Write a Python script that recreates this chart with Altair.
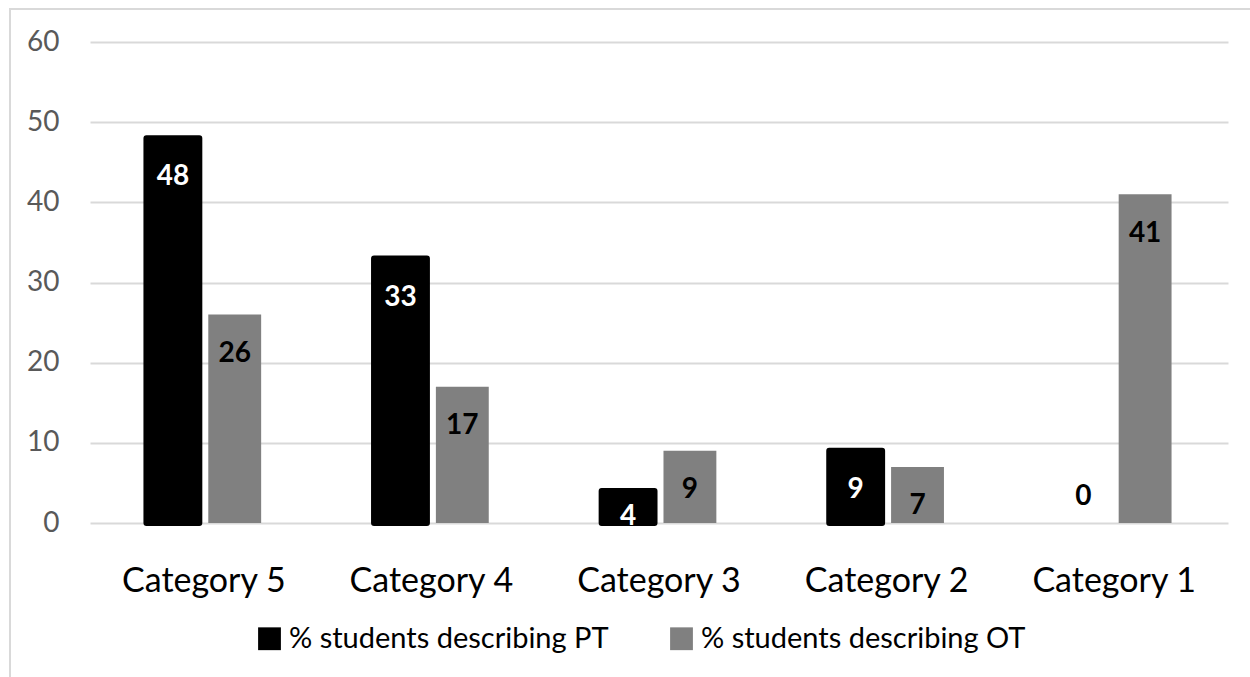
import altair as alt
import pandas as pd

categories = ["Category 5", "Category 4", "Category 3", "Category 2", "Category 1"]
pt_values = [48, 33, 4, 9, 0]
ot_values = [26, 17, 9, 7, 41]
series_names = ["% students describing PT", "% students describing OT"]
series_colors = ["#000000", "#808080"]
y_ticks = [0, 10, 20, 30, 40, 50, 60]

rows = []
for c, p, o in zip(categories, pt_values, ot_values):
    rows.append({"category": c, "series": series_names[0], "value": p})
    rows.append({"category": c, "series": series_names[1], "value": o})
df = pd.DataFrame(rows)

FONT = "Lato"
PT_TEST = "datum.series == '% students describing PT' && datum.value > 0"

x_enc = alt.X(
    "category:N",
    sort=categories,
    scale=alt.Scale(paddingInner=0.496, paddingOuter=0.248),
    axis=alt.Axis(
        title=None, labelAngle=0, labelFontSize=34, labelColor="#000000",
        labelFont=FONT, labelPadding=41, ticks=False, domain=False, grid=False,
    ),
)
xoff_enc = alt.XOffset(
    "series:N", sort=series_names,
    scale=alt.Scale(domain=series_names, paddingInner=0.145, paddingOuter=0),
)
y_scale = alt.Scale(domain=[0, 60], nice=False)
y_axis = alt.Axis(
    title=None, values=y_ticks, grid=True, gridColor="#d9d9d9", gridWidth=2,
    domain=False, ticks=False, labelFontSize=28, labelColor="#595959",
    labelFont=FONT, labelPadding=31,
)

bars = alt.Chart(df).mark_bar(strokeJoin="round").encode(
    x=x_enc,
    xOffset=xoff_enc,
    y=alt.Y("value:Q", scale=y_scale, axis=y_axis),
    color=alt.Color(
        "series:N",
        scale=alt.Scale(domain=series_names, range=series_colors),
        legend=alt.Legend(
            title=None, orient="none", legendX=165, legendY=582, direction="horizontal",
            labelFontSize=29, labelFont=FONT, labelColor="#000000", symbolType="square",
            symbolSize=520, symbolStrokeWidth=0, labelOffset=5, columnPadding=58,
            labelLimit=0,
        ),
    ),
    stroke=alt.value("#000000"),
    strokeWidth=alt.condition(PT_TEST, alt.value(6), alt.value(0)),
)

labels = alt.Chart(df).transform_calculate(
    labelPos="datum.value == 0 ? 3.3 : max(datum.value - 4.9, 0.75)"
).mark_text(font=FONT, fontWeight="bold", fontSize=28, baseline="middle").encode(
    x=x_enc,
    xOffset=xoff_enc,
    y=alt.Y("labelPos:Q", scale=y_scale, axis=y_axis),
    text=alt.Text("value:Q"),
    color=alt.condition(PT_TEST, alt.value("#ffffff"), alt.value("#000000")),
)

border = alt.Chart(alt.Data(values=[{"a": 1}])).mark_rect(
    fillOpacity=0, stroke="#d9d9d9", strokeWidth=2
).encode(
    x=alt.value(-80), x2=alt.value(1180), y=alt.value(-33), y2=alt.value(700)
)

chart = alt.layer(border, bars, labels).properties(
    width=1138,
    height=481,
    padding={"left": 90, "top": 42, "right": 22, "bottom": 154},
    autosize=alt.AutoSizeParams(type="none"),
    background="#ffffff",
).configure_view(stroke=None)

chart.save("out.html", embed_options={"renderer": "svg", "actions": False})
